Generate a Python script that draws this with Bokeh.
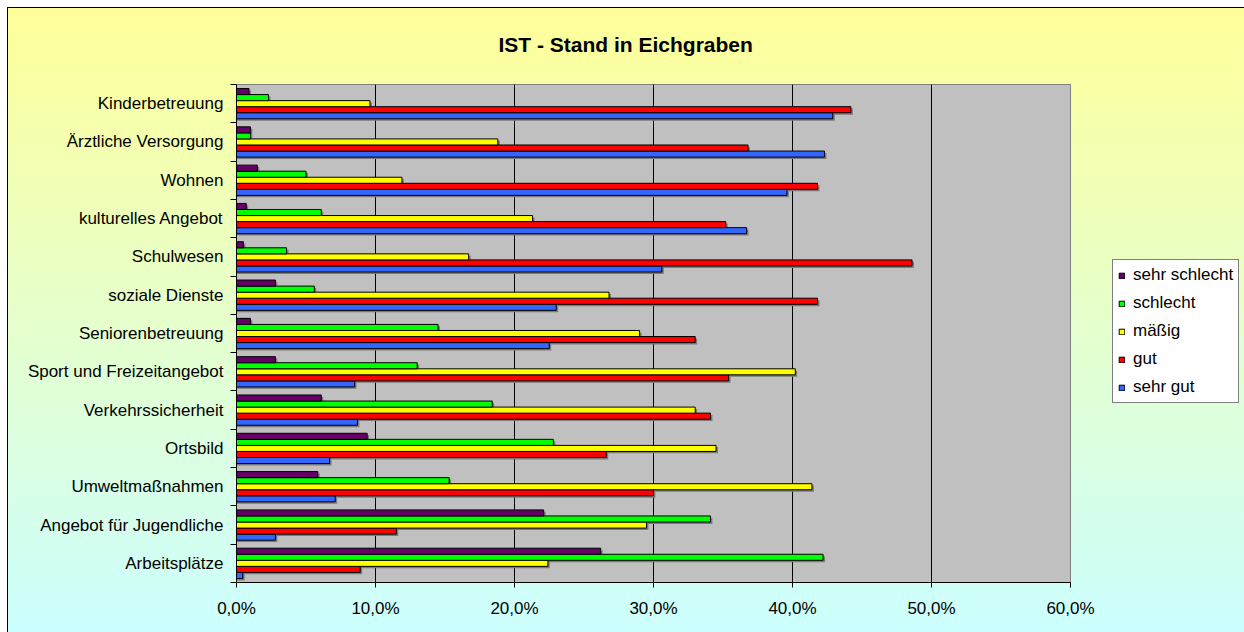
import numpy as np
from bokeh.plotting import figure
from bokeh.models import Range1d, FixedTicker, Legend, LegendItem, ColumnDataSource
from bokeh.transform import dodge
from bokeh.layouts import row
from bokeh.embed import file_html
from bokeh.resources import INLINE

# ---------------- data ----------------
categories = ["Kinderbetreuung", "Ärztliche Versorgung", "Wohnen", "kulturelles Angebot",
              "Schulwesen", "soziale Dienste", "Seniorenbetreuung", "Sport und Freizeitangebot",
              "Verkehrssicherheit", "Ortsbild", "Umweltmaßnahmen", "Angebot für Jugendliche",
              "Arbeitsplätze"]
sehr_gut      = [42.9, 42.3, 39.6, 36.7, 30.6, 23.0, 22.5, 8.5, 8.7, 6.7, 7.1, 2.8, 0.45]
gut           = [44.2, 36.8, 41.8, 35.2, 48.6, 41.8, 33.0, 35.4, 34.1, 26.6, 30.0, 11.5, 8.9]
maessig       = [9.6, 18.8, 11.9, 21.3, 16.7, 26.8, 29.0, 40.2, 33.0, 34.5, 41.4, 29.5, 22.4]
schlecht      = [2.3, 1.0, 5.0, 6.1, 3.6, 5.6, 14.5, 13.0, 18.4, 22.8, 15.3, 34.1, 42.2]
sehr_schlecht = [0.9, 1.0, 1.5, 0.7, 0.5, 2.8, 1.0, 2.8, 6.1, 9.4, 5.85, 22.1, 26.2]

series_names = ["sehr gut", "gut", "mäßig", "schlecht", "sehr schlecht"]
series_values = [sehr_gut, gut, maessig, schlecht, sehr_schlecht]
series_colors = ["#3366FF", "#FF0000", "#FFFF00", "#00FF00", "#660066"]

x_ticks = [0, 10, 20, 30, 40, 50, 60]
x_tick_labels = ["0,0%", "10,0%", "20,0%", "30,0%", "40,0%", "50,0%", "60,0%"]
title_text = "IST - Stand in Eichgraben"

FONT = "Liberation Sans"
GRAD = "linear-gradient(to bottom, #FFFF99 0%, #CCFFFF 100%)"
n = len(categories)
centers = n - 0.5 - np.arange(n)

W1, W2, H = 1110, 134, 632

p = figure(width=W1, height=H, output_backend="svg", toolbar_location=None,
           x_range=Range1d(0, 60), y_range=Range1d(0, n),
           min_border_left=236, min_border_right=W1 - 1070, min_border_top=84, min_border_bottom=50,
           background_fill_color="#C0C0C0", border_fill_color=None,
           outline_line_color="#808080", outline_line_width=1)
p.styles = {"background": (f"{GRAD} 8px 8px / calc(100% - 8px) calc(100% - 8px) no-repeat, "
                           "linear-gradient(#000000, #000000) 7px 7px / 100% 100% no-repeat, "
                           "#FFFFFF")}

# title
p.title.text = title_text
p.title.align = "left"
p.title.offset = 262
p.title.vertical_align = "bottom"
p.title.standoff = 58
p.title.text_font = FONT
p.title.text_font_style = "bold"
p.title.text_font_size = "21px"
p.title.text_color = "#000000"

# grid
p.ygrid.visible = False
p.xgrid.ticker = FixedTicker(ticks=x_ticks[1:-1])
p.xgrid.grid_line_color = "#000000"
p.xgrid.grid_line_width = 1

# bars
data = {"y": centers}
bh = 0.158
sh_dx = 0.14
sh_dy = 0.05
for i, vals in enumerate(series_values):
    data[f"s{i}"] = np.array(vals, dtype=float)
    data[f"s{i}_sh"] = np.array(vals, dtype=float) + sh_dx
source = ColumnDataSource(data)

offsets = [-2 * bh, -bh, 0.0, bh, 2 * bh]
for i in range(len(series_names)):
    p.hbar(y=dodge("y", offsets[i] - sh_dy, range=p.y_range), left=0, right=f"s{i}_sh",
           height=bh, fill_color="#7A7A7A", line_color=None, source=source)
for i in range(len(series_names)):
    p.hbar(y=dodge("y", offsets[i], range=p.y_range), left=0, right=f"s{i}",
           height=bh, fill_color=series_colors[i], line_color="#000000", line_width=1,
           source=source)

# x axis
xa = p.xaxis[0]
xa.ticker = FixedTicker(ticks=x_ticks, minor_ticks=[])
xa.major_label_overrides = {t: l for t, l in zip(x_ticks, x_tick_labels)}
xa.axis_line_color = "#000000"
xa.major_tick_line_color = "#000000"
xa.major_tick_out = 5
xa.major_tick_in = 0
xa.minor_tick_line_color = None
xa.major_label_standoff = 11
xa.major_label_text_font = FONT
xa.major_label_text_font_size = "17px"
xa.major_label_text_color = "#000000"

# y axis
ya = p.yaxis[0]
ya.ticker = FixedTicker(ticks=list(centers), minor_ticks=list(range(n + 1)))
ya.major_label_overrides = {float(c): name for c, name in zip(centers, categories)}
ya.axis_line_color = "#000000"
ya.major_tick_line_color = None
ya.major_tick_out = 0
ya.major_tick_in = 0
ya.minor_tick_line_color = "#000000"
ya.minor_tick_out = 6
ya.minor_tick_in = 0
ya.major_label_standoff = 7
ya.major_label_text_font = FONT
ya.major_label_text_font_size = "17px"
ya.major_label_text_color = "#000000"

# ---------------- legend figure ----------------
p2 = figure(width=W2, height=H, output_backend="svg", toolbar_location=None,
            x_range=Range1d(0, 1), y_range=Range1d(0, 1),
            min_border=0, min_border_left=0, min_border_right=0, min_border_top=0,
            min_border_bottom=0, background_fill_color=None, border_fill_color=None,
            outline_line_color=None)
p2.xaxis.visible = False
p2.yaxis.visible = False
p2.xgrid.visible = False
p2.ygrid.visible = False
p2.styles = {"background": (f"{GRAD} 0px 8px / 100% calc(100% - 8px) no-repeat, "
                            "linear-gradient(#000000, #000000) 0px 7px / 100% 100% no-repeat, "
                            "#FFFFFF")}
legend_renderers = []
for i in range(len(series_names)):
    # tiny swatch renderer hidden underneath the legend box; used for the legend glyph only
    r = p2.hbar(y=[0.5], right=[0.5], left=[0.5], height=0.005, fill_color=series_colors[i],
                line_color="#000000", line_width=1)
    legend_renderers.append(r)
items = [LegendItem(label=series_names[i], renderers=[legend_renderers[i]])
         for i in reversed(range(len(series_names)))]
legend = Legend(items=items, location=(2, 179), orientation="vertical",
                border_line_color="#000000", border_line_width=1,
                background_fill_color="#FFFFFF", background_fill_alpha=1.0,
                glyph_width=7, glyph_height=7, label_standoff=8, padding=5, spacing=8,
                label_height=20, margin=0,
                label_text_font=FONT, label_text_font_size="17px", label_text_color="#000000")
p2.add_layout(legend)

layout = row(p, p2, spacing=0)
open("out.html", "w").write(file_html(layout, INLINE))
